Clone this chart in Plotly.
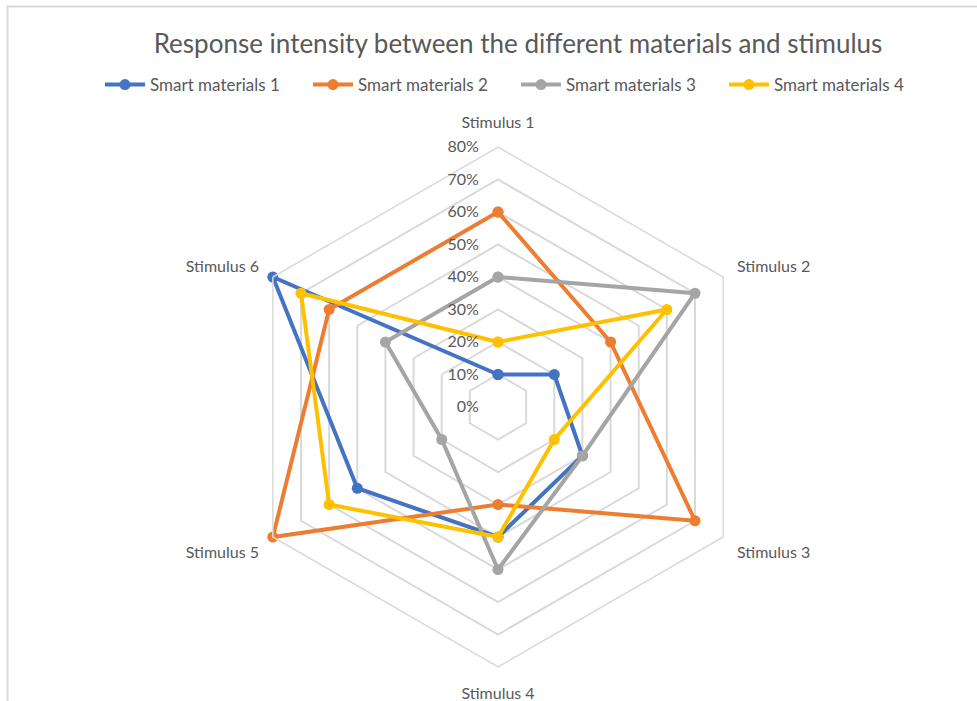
import plotly.graph_objects as go

categories = ["Stimulus 1", "Stimulus 2", "Stimulus 3", "Stimulus 4", "Stimulus 5", "Stimulus 6"]
series_names = ["Smart materials 1", "Smart materials 2", "Smart materials 3", "Smart materials 4"]
material_1 = [0.10, 0.20, 0.30, 0.40, 0.50, 0.80]
material_2 = [0.60, 0.40, 0.70, 0.30, 0.80, 0.60]
material_3 = [0.40, 0.70, 0.30, 0.50, 0.20, 0.40]
material_4 = [0.20, 0.60, 0.20, 0.40, 0.60, 0.70]
radial_ticks = [0, 0.1, 0.2, 0.3, 0.4, 0.5, 0.6, 0.7, 0.8]
radial_tick_labels = ["0%", "10%", "20%", "30%", "40%", "50%", "60%", "70%", "80%"]

colors = ["#4472C4", "#ED7D31", "#A5A5A5", "#FFC000"]
FONT = "Lato, Calibri, sans-serif"
TXT = "#595959"
GRID = "#D9D9D9"

fig = go.Figure()
for name, vals, col in zip(series_names, [material_1, material_2, material_3, material_4], colors):
    fig.add_trace(go.Scatterpolar(
        r=vals + vals[:1],
        theta=categories + categories[:1],
        mode="lines+markers",
        name=name,
        line=dict(color=col, width=4),
        marker=dict(color=col, size=11),
    ))

W, H = 977, 701
cx, cy, R = 498, 407, 260
fig.update_layout(
    width=W, height=H,
    margin=dict(l=0, r=0, t=0, b=0),
    paper_bgcolor="white",
    font=dict(family=FONT, color=TXT, size=16),
    title=dict(text="Response intensity between the different materials and stimulus",
               x=518 / W, xanchor="center", y=1 - 44 / H, yanchor="middle",
               font=dict(size=26, color=TXT, family=FONT)),
    legend=dict(orientation="h", x=100 / W, xanchor="left", y=1 - 85 / H, yanchor="middle",
                font=dict(size=17, color=TXT), entrywidth=153, itemwidth=40),
    polar=dict(
        domain=dict(x=[(cx - R) / W, (cx + R) / W], y=[(H - cy - R) / H, (H - cy + R) / H]),
        gridshape="linear",
        bgcolor="white",
        angularaxis=dict(rotation=90, direction="clockwise", showgrid=False,
                         showline=True, linecolor=GRID, linewidth=1.5,
                         ticks="outside", ticklen=12, tickcolor="rgba(0,0,0,0)",
                         tickfont=dict(size=16, color=TXT)),
        radialaxis=dict(range=[0, 0.8], tickvals=radial_ticks, ticktext=radial_tick_labels,
                        angle=90, side="counterclockwise", showline=False,
                        gridcolor=GRID, gridwidth=1.5,
                        ticks="outside", ticklen=13, tickcolor="rgba(0,0,0,0)",
                        tickfont=dict(size=16, color=TXT), tickangle=90),
    ),
    shapes=[dict(type="rect", xref="paper", yref="paper",
                 x0=7.5 / W, x1=1.05, y0=-0.05, y1=1 - 6.5 / H,
                 line=dict(color=GRID, width=2))],
)

fig.write_html("out.html", config={"displayModeBar": False},
               post_script="document.body.style.margin='0px';")
